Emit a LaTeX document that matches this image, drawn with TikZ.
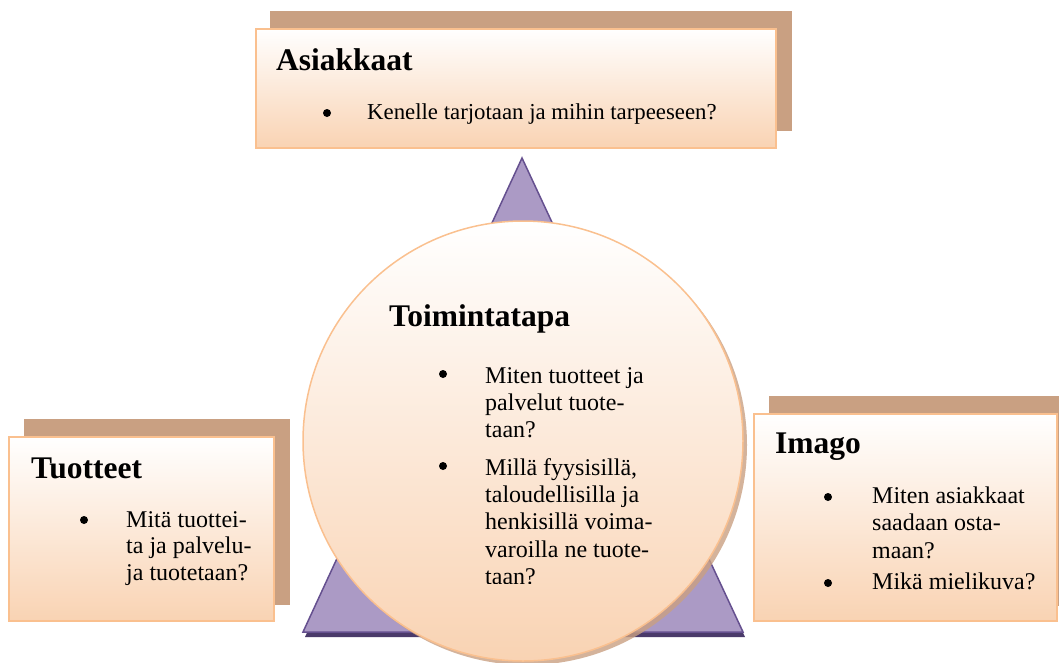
\documentclass[tikz,border=0pt]{standalone}
\usepackage{fontspec}
\setmainfont{Liberation Serif}
\usetikzlibrary{positioning}
\definecolor{cardedge}{HTML}{FAC08F}
\definecolor{cardfill}{HTML}{F9D3B3}
\definecolor{cardback}{HTML}{C9A082}
\definecolor{trifill}{HTML}{AB9AC5}
\definecolor{triedge}{HTML}{65508F}
\definecolor{tridark}{HTML}{4A3A6A}
\tikzset{
    card/.style = {draw=cardedge,line width=1.5pt,top color=white,bottom color=cardfill,anchor=north west,inner sep=0},
    backcard/.style = {fill=cardback,anchor=north west,inner sep=0},
    heading/.style = {font=\fontsize{31.5}{36}\selectfont\bfseries,anchor=base west,inner sep=0},
    item/.style = {font=\fontsize{24}{27}\selectfont,anchor=base west,inner sep=0},
    bullet/.style = {circle,fill=black,inner sep=0,minimum size=8pt}
}
\tikzset{
    tri/.style = {fill=trifill,draw=triedge,line width=1.5pt,line join=miter},
    trishadow/.style = {fill=tridark},
    hub/.style = {circle,draw=cardedge,line width=1.5pt,top color=white,bottom color=cardfill,minimum size=440pt,inner sep=0}
}

\begin{document}
\begin{tikzpicture}[x=1pt,y=-1pt]
        \useasboundingbox (0,0) rectangle (1059,662);
        % Triangle
        \coordinate (apex) at (522,158);
        \coordinate (left) at (303,632);
        \coordinate (right) at (743,632);
        \fill[trishadow] ([shift={(2,5)}]apex) -- ([shift={(2,5)}]left) -- ([shift={(2,5)}]right) -- cycle;
        \draw[tri] (apex) -- (left) -- (right) -- cycle;
        % Centre circle
        \fill[cardback,opacity=0.8] (527,445) circle (220);
        \node[hub] (way) at (523,441) {};
        \node[heading] (wayhead) at (389,326) {Toimintatapa};
        \begin{scope}
            \clip (300,200) rectangle (750,583);
            \foreach \line [count=\i] in {Miten tuotteet ja,palvelut tuote-,taan?}
                \node[item] (way1-\i) at (485,356+27*\i) {\line};
            \foreach \line [count=\i] in {{Millä fyysisillä,},taloudellisilla ja,henkisillä voima-,varoilla ne tuote-,taan?}
                \node[item] (way2-\i) at (485,447.6+27.4*\i) {\line};
        \end{scope}
        \foreach \y in {374,466}
            \node[bullet] at (443,\y) {};
        % Customers
        \node[backcard,minimum width=522pt,minimum height=120pt] (custback) at (270,11) {};
        \node[card,minimum width=520pt,minimum height=119pt] (cust) at (255,28) {};
        \node[heading] (custhead) at (276,70) {Asiakkaat};
        \node[bullet] at (327,113) {};
        \node[item,font=\fontsize{22.8}{27}\selectfont] (cust1) at (367,119) {Kenelle tarjotaan ja mihin tarpeeseen?};
        % Products
        \node[backcard,minimum width=266pt,minimum height=186pt] (prodback) at (24,419) {};
        \node[card,minimum width=265pt,minimum height=184pt] (prod) at (8,436) {};
        \node[heading] (prodhead) at (31,478) {Tuotteet};
        \node[bullet] at (84,520) {};
        \foreach \line [count=\i] in {Mitä tuottei-,ta ja palvelu-,ja tuotetaan?}
            \node[item] (prod1-\i) at (126,500.5+26.5*\i) {\line};
        % Image
        \node[backcard,minimum width=292pt,minimum height=210pt] (imgback) at (769,396) {};
        \node[card,minimum width=303pt,minimum height=207pt] (img) at (753,413) {};
        \node[heading] (imghead) at (775,453) {Imago};
        \foreach \y in {497,583}
            \node[bullet] at (828,\y) {};
        \foreach \line [count=\i] in {Miten asiakkaat,saadaan osta-,maan?}
            \node[item] (img1-\i) at (872,475.5+27.5*\i) {\line};
        \node[item] (img2) at (872,589) {Mikä mielikuva?};
    \end{tikzpicture}
\end{document}
